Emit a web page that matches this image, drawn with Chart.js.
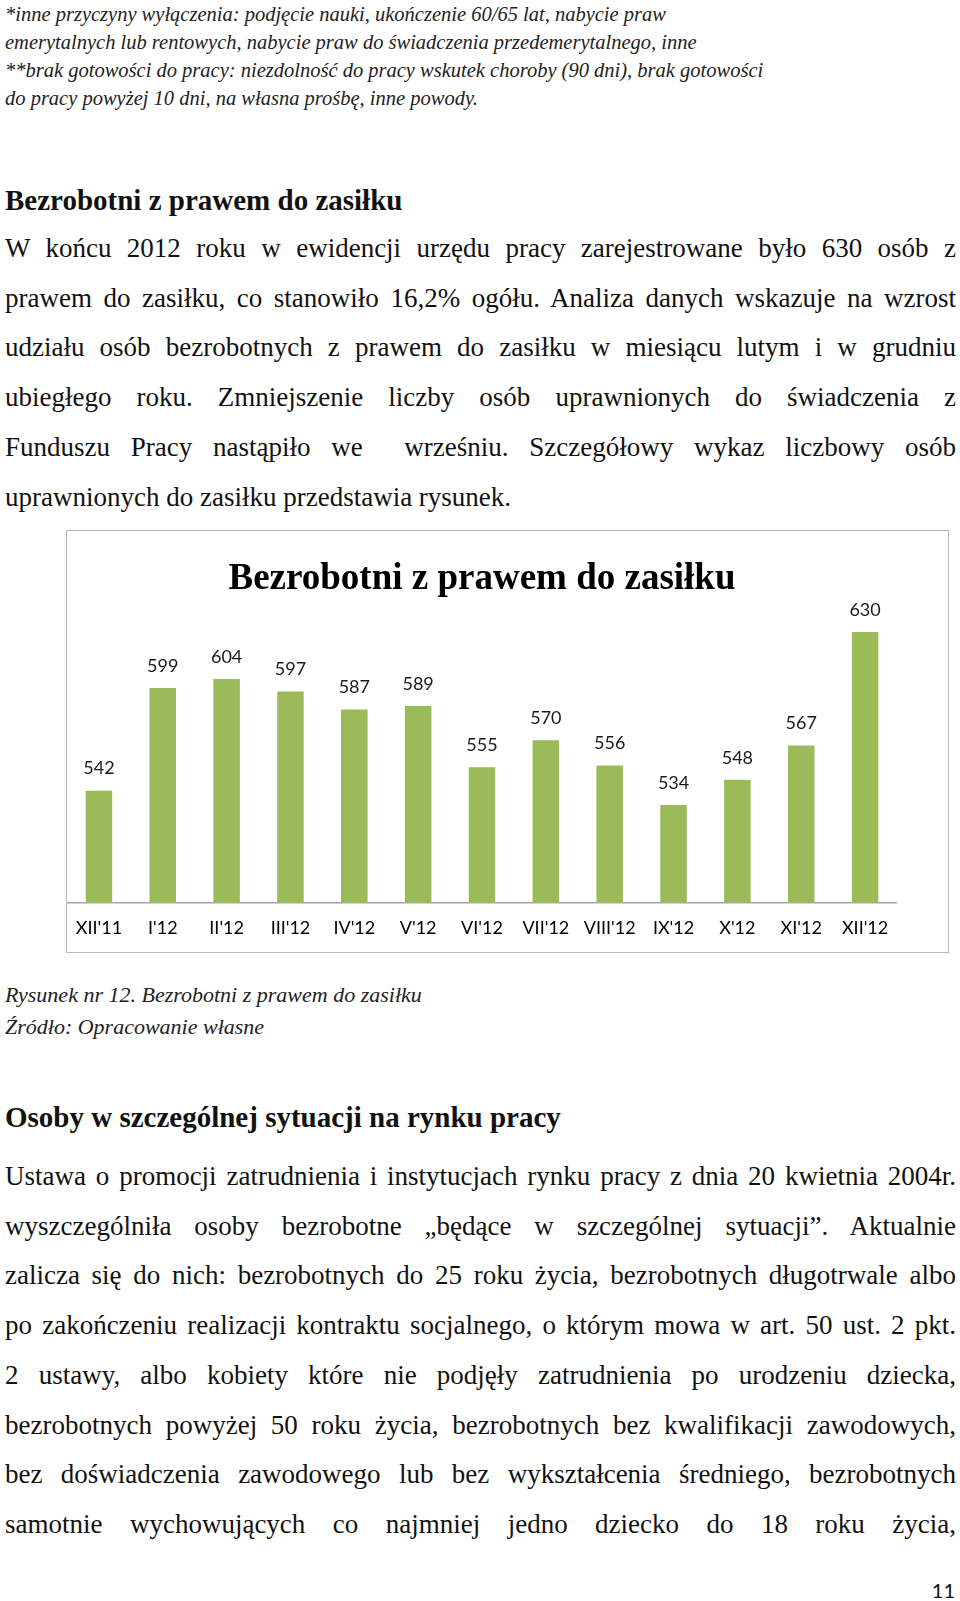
<!DOCTYPE html>
<html lang="pl">
<head>
<meta charset="utf-8">
<title>Bezrobotni z prawem do zasiłku</title>
<script src="https://cdn.jsdelivr.net/npm/chart.js"></script>
<style>
  html, body { margin: 0; padding: 0; background: #fff; }
  body { width: 960px; height: 1601px; position: relative; overflow: hidden;
         font-family: "Liberation Serif", "DejaVu Serif", serif; color: #111; }
  .blk { position: absolute; left: 5px; width: 951px; }
  .foot { font-style: italic; font-size: 20.5px; line-height: 28px; color: #222; }
  .head { font-weight: bold; font-size: 29px; line-height: 32px; }
  .para { font-size: 27px; line-height: 49.7px; }
  .para div { text-align: justify; text-align-last: justify; }
  .para div.last { text-align-last: left; }
  .cap { font-style: italic; font-size: 22px; line-height: 32px; color: #222; }
  .chartbox { position: absolute; left: 66px; top: 530px; width: 881px; height: 421px;
              border: 1px solid #b8b8b8; background: #fff; }
  .chartwrap { position: absolute; left: 0; top: 0; width: 830px; height: 423px; }
  .pagenum { position: absolute; right: 5px; top: 1578px; font-family: Lato, sans-serif;
             font-size: 20px; line-height: 24px; }
</style>
</head>
<body>

<div class="blk foot" style="top:0">
  <div>*inne przyczyny wyłączenia: podjęcie nauki, ukończenie 60/65 lat, nabycie praw</div>
  <div>emerytalnych lub rentowych, nabycie praw do świadczenia przedemerytalnego, inne</div>
  <div>**brak gotowości do pracy: niezdolność do pracy wskutek choroby (90 dni), brak gotowości</div>
  <div>do pracy powyżej 10 dni, na własna prośbę, inne powody.</div>
</div>

<div class="blk head" style="top:184px">Bezrobotni z prawem do zasiłku</div>

<div class="blk para" style="top:224px">
  <div>W końcu 2012 roku w ewidencji urzędu pracy zarejestrowane było 630 osób z</div>
  <div>prawem do zasiłku, co stanowiło 16,2% ogółu. Analiza danych wskazuje na wzrost</div>
  <div>udziału osób bezrobotnych z prawem do zasiłku w miesiącu lutym i w grudniu</div>
  <div>ubiegłego roku. Zmniejszenie liczby osób uprawnionych do świadczenia z</div>
  <div>Funduszu Pracy nastąpiło we&nbsp; wrześniu. Szczegółowy wykaz liczbowy osób</div>
  <div class="last">uprawnionych do zasiłku przedstawia rysunek.</div>
</div>

<div class="chartbox">
  <div class="chartwrap"><canvas id="claimantsChart"></canvas></div>
</div>

<div class="blk cap" style="top:979px">
  <div>Rysunek nr 12. Bezrobotni z prawem do zasiłku</div>
  <div>Źródło: Opracowanie własne</div>
</div>

<div class="blk head" style="top:1101px">Osoby w szczególnej sytuacji na rynku pracy</div>

<div class="blk para" style="top:1152px">
  <div>Ustawa o promocji zatrudnienia i instytucjach rynku pracy z dnia 20 kwietnia 2004r.</div>
  <div>wyszczególniła osoby bezrobotne „będące w szczególnej sytuacji”. Aktualnie</div>
  <div>zalicza się do nich: bezrobotnych do 25 roku życia, bezrobotnych długotrwale albo</div>
  <div>po zakończeniu realizacji kontraktu socjalnego, o którym mowa w art. 50 ust. 2 pkt.</div>
  <div>2 ustawy, albo kobiety które nie podjęły zatrudnienia po urodzeniu dziecka,</div>
  <div>bezrobotnych powyżej 50 roku życia, bezrobotnych bez kwalifikacji zawodowych,</div>
  <div>bez doświadczenia zawodowego lub bez wykształcenia średniego, bezrobotnych</div>
  <div>samotnie wychowujących co najmniej jedno dziecko do 18 roku życia,</div>
</div>

<div class="pagenum">11</div>

<script>
// months shown on the x axis
var months = ["XII'11", "I'12", "II'12", "III'12", "IV'12", "V'12", "VI'12",
              "VII'12", "VIII'12", "IX'12", "X'12", "XI'12", "XII'12"];
// number of unemployed with benefit rights
var claimants = [542, 599, 604, 597, 587, 589, 555, 570, 556, 534, 548, 567, 630];

// value above every bar, like the data labels in the original
var valueLabels = {
    id: 'valueLabels',
    afterDatasetsDraw: function (chart) {
        var ctx = chart.ctx;
        var meta = chart.getDatasetMeta(0);
        ctx.save();
        ctx.font = '18px Lato';
        ctx.fillStyle = '#1a1a1a';
        ctx.textAlign = 'center';
        ctx.textBaseline = 'middle';
        meta.data.forEach(function (bar, i) {
            ctx.fillText(String(claimants[i]), bar.x, bar.y - 22);
        });
        ctx.restore();
    }
};

var claimantsContext = document.getElementById('claimantsChart');
var barChart = new Chart(claimantsContext, {
    type: 'bar',
    data: {
        labels: months,
        datasets: [{
            label: 'Bezrobotni z prawem do zasiłku',
            data: claimants,
            backgroundColor: '#9bbb59',
            borderWidth: 0,
            categoryPercentage: 0.415,
            barPercentage: 1
        }]
    },
    options: {
        responsive: true,
        maintainAspectRatio: false,
        animation: false,
        devicePixelRatio: 1,
        layout: {
            padding: { top: 25.8, bottom: 0, left: 0, right: 0 }
        },
        plugins: {
            legend: { display: false },
            tooltip: { enabled: false },
            title: {
                display: true,
                text: 'Bezrobotni z prawem do zasiłku',
                color: '#000',
                font: { family: 'Liberation Serif', size: 37, weight: 'bold' },
                padding: { top: 0, bottom: 12.8 }
            }
        },
        scales: {
            x: {
                grid: { display: false, drawTicks: false },
                border: { display: true, color: '#a6a6a6', width: 1.5 },
                ticks: {
                    color: '#000',
                    padding: 15,
                    maxRotation: 0,
                    autoSkip: false,
                    font: { family: 'Lato', size: 18 }
                },
                // the plot runs edge to edge, no extra room for the end labels
                afterFit: function (scale) {
                    scale.paddingLeft = 0;
                    scale.paddingRight = 0;
                }
            },
            y: {
                display: false,
                min: 480,
                max: 640
            }
        }
    },
    plugins: [valueLabels]
});
</script>
</body>
</html>
